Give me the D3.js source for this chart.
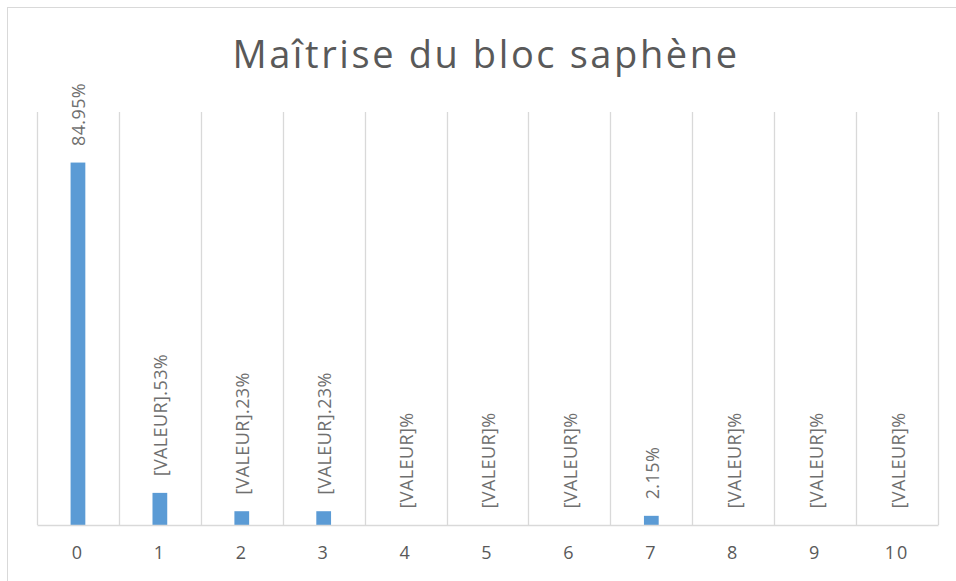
<!DOCTYPE html>
<html>
<head>
<meta charset="utf-8">
<script src="https://cdn.jsdelivr.net/npm/d3@7"></script>
<style>
  html, body { margin: 0; padding: 0; background: #ffffff; }
  svg { display: block; }
</style>
</head>
<body>
<svg id="chart" width="956" height="581"></svg>
<script>
// Bloc saphène mastery score distribution (share of respondents per score)
const title = "Maîtrise du bloc saphène";
const categories = ["0", "1", "2", "3", "4", "5", "6", "7", "8", "9", "10"];
const values = [84.95, 7.53, 3.23, 3.23, 0, 0, 0, 2.15, 0, 0, 0];
const valueLabels = ["84.95%", "[VALEUR].53%", "[VALEUR].23%", "[VALEUR].23%", "[VALEUR]%",
                     "[VALEUR]%", "[VALEUR]%", "2.15%", "[VALEUR]%", "[VALEUR]%", "[VALEUR]%"];

const svg = d3.select("#chart");
const font = "'Open Sans', 'Noto Sans', sans-serif";
const textColor = "#595959";
const gridColor = "#d9d9d9";

const plot = { left: 37, right: 938, top: 112, bottom: 525 };

// Chart frame
svg.append("rect")
  .attr("x", 7.5).attr("y", 7.5)
  .attr("width", 960).attr("height", 590)
  .attr("fill", "#ffffff")
  .attr("stroke", gridColor).attr("stroke-width", 1);

const x = d3.scaleBand()
  .domain(categories)
  .range([plot.left, plot.right])
  .paddingInner(0.82)
  .paddingOuter(0.41);

const y = d3.scaleLinear()
  .domain([0, 96.8])
  .range([plot.bottom, plot.top]);

// Vertical gridlines at category boundaries
const step = x.step();
const boundaries = d3.range(categories.length + 1).map(i => plot.left + i * step);
svg.append("g")
  .selectAll("line")
  .data(boundaries)
  .join("line")
  .attr("x1", d => Math.round(d) + 0.5).attr("x2", d => Math.round(d) + 0.5)
  .attr("y1", plot.top).attr("y2", plot.bottom)
  .attr("stroke", gridColor).attr("stroke-width", 1.3);

// Bars
svg.append("g")
  .selectAll("rect")
  .data(values)
  .join("rect")
  .attr("x", (d, i) => x(categories[i]))
  .attr("width", x.bandwidth())
  .attr("y", d => y(d))
  .attr("height", d => y(0) - y(d))
  .attr("fill", "#5b9bd5");

// Category axis
const xAxis = svg.append("g")
  .attr("transform", `translate(0,${plot.bottom})`)
  .call(d3.axisBottom(x).tickSize(0).tickPadding(21));
xAxis.select(".domain")
  .attr("stroke", gridColor).attr("stroke-width", 1.3);
xAxis.selectAll("text")
  .attr("font-family", font)
  .attr("font-size", 18)
  .attr("letter-spacing", 2)
  .attr("fill", textColor);

// Rotated value labels above each bar
svg.append("g")
  .selectAll("text")
  .data(values)
  .join("text")
  .attr("transform", (d, i) => `translate(${x(categories[i]) + x.bandwidth() / 2 + 1},${y(d) - 16.5}) rotate(-90)`)
  .attr("dy", "0.36em")
  .attr("text-anchor", "start")
  .attr("font-family", font)
  .attr("font-size", 18)
  .attr("letter-spacing", 0.4)
  .attr("fill", "#6f6f6f")
  .text((d, i) => valueLabels[i]);

// Title
svg.append("text")
  .attr("x", 486)
  .attr("y", 68)
  .attr("text-anchor", "middle")
  .attr("font-family", font)
  .attr("font-size", 38)
  .attr("letter-spacing", 2.6)
  .attr("fill", textColor)
  .text(title);
</script>
</body>
</html>
